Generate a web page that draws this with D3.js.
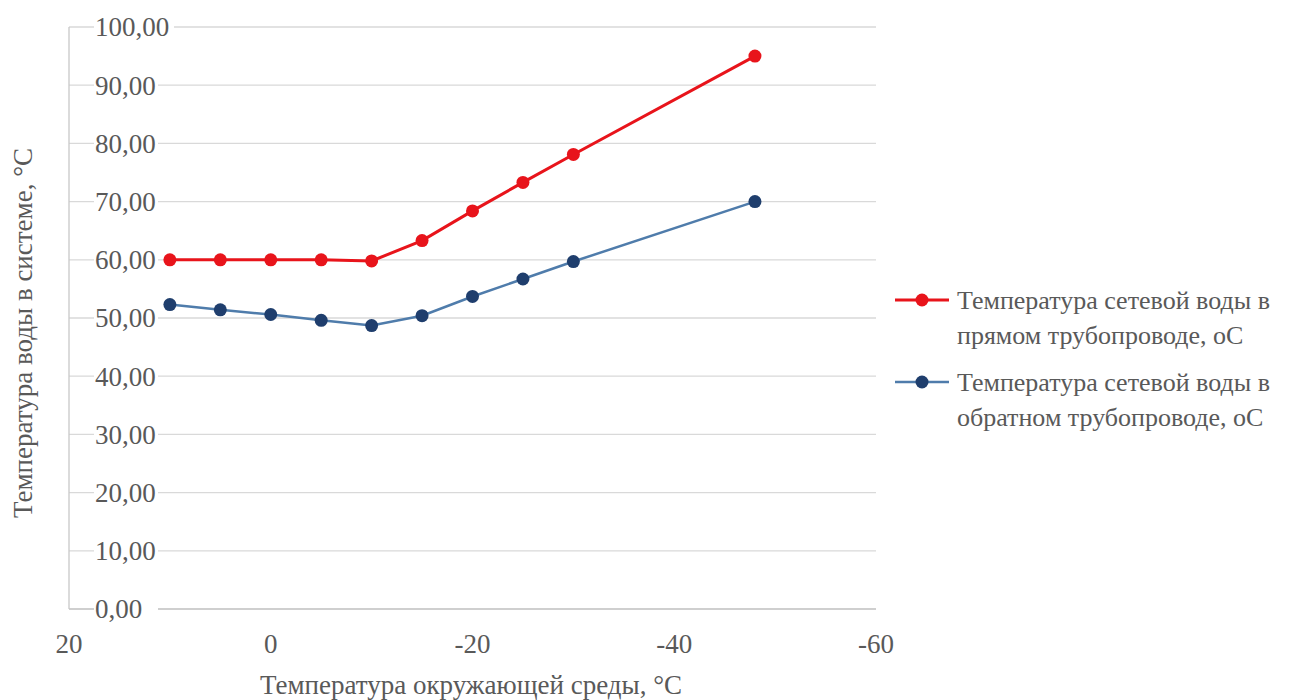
<!DOCTYPE html>
<html>
<head>
<meta charset="utf-8">
<script src="https://cdn.jsdelivr.net/npm/d3@7/dist/d3.min.js"></script>
</head>
<body style="margin:0; background:#fff">
<div id="chart"></div>
<script>
    // температура окружающей среды, °C
    var tOut = [10, 5, 0, -5, -10, -15, -20, -25, -30, -48];
    // прямой трубопровод
    var tSupply = [60, 60, 60, 60, 59.8, 63.3, 68.4, 73.3, 78.1, 95];
    // обратный трубопровод
    var tReturn = [52.3, 51.4, 50.6, 49.6, 48.7, 50.4, 53.7, 56.7, 59.7, 70];
    var xTicks = [20, 0, -20, -40, -60];
    var yTicks = [0, 10, 20, 30, 40, 50, 60, 70, 80, 90, 100];
    var seriesNames = [
        ["Температура сетевой воды в", "прямом трубопроводе, оС"],
        ["Температура сетевой воды в", "обратном трубопроводе, оС"]
    ];

    var W = 1313, H = 700;
    var svg = d3.select("#chart").append("svg")
        .attr("width", W).attr("height", H);

    var x = d3.scaleLinear().domain([20, -60]).range([69, 876]);
    var y = d3.scaleLinear().domain([0, 100]).range([609, 27]);

    function label(sel, size) {
        return sel.attr("font-family", "Times New Roman")
            .style("font-family", "Times New Roman")
            .attr("font-size", size).attr("fill", "#595959");
    }

    // горизонтальная сетка
    svg.append("g")
        .selectAll("line").data(yTicks).enter().append("line")
        .attr("x1", x(20)).attr("x2", x(-60))
        .attr("y1", function (d) { return y(d); })
        .attr("y2", function (d) { return y(d); })
        .attr("stroke", function (d) { return d === 0 ? "#bfbfbf" : "#d9d9d9"; })
        .attr("stroke-width", 1.3);

    // вертикальная ось
    svg.append("line")
        .attr("x1", x(20)).attr("x2", x(20))
        .attr("y1", y(100)).attr("y2", y(0))
        .attr("stroke", "#c8c8c8").attr("stroke-width", 1.3);

    // подписи оси Y (с белой подложкой)
    var yl = svg.append("g").selectAll("g").data(yTicks).enter().append("g")
        .attr("transform", function (d) { return "translate(95," + y(d) + ")"; });
    yl.append("rect")
        .attr("x", -1).attr("y", -6).attr("width", function (d) { return d === 100 ? 80 : 64; })
        .attr("height", 12).attr("fill", "#fff");
    label(yl.append("text"), 27)
        .attr("dy", "0.35em")
        .text(function (d) { return d3.format(".2f")(d).replace(".", ","); });

    // подписи оси X
    label(svg.append("g").selectAll("text").data(xTicks).enter().append("text"), 27)
        .attr("x", function (d) { return x(d); })
        .attr("y", 653)
        .attr("text-anchor", "middle")
        .text(function (d) { return d; });

    // линии серий
    var line = d3.line()
        .x(function (d) { return x(d[0]); })
        .y(function (d) { return y(d[1]); });
    var supply = tOut.map(function (t, i) { return [t, tSupply[i]]; });
    var ret = tOut.map(function (t, i) { return [t, tReturn[i]]; });

    svg.append("path").datum(ret).attr("d", line)
        .attr("fill", "none").attr("stroke", "#4f7cab").attr("stroke-width", 2.5);
    svg.append("path").datum(supply).attr("d", line)
        .attr("fill", "none").attr("stroke", "#e8141b").attr("stroke-width", 3);

    svg.append("g").selectAll("circle").data(ret).enter().append("circle")
        .attr("cx", function (d) { return x(d[0]); })
        .attr("cy", function (d) { return y(d[1]); })
        .attr("r", 6.5).attr("fill", "#1f3e6d");
    svg.append("g").selectAll("circle").data(supply).enter().append("circle")
        .attr("cx", function (d) { return x(d[0]); })
        .attr("cy", function (d) { return y(d[1]); })
        .attr("r", 6.5).attr("fill", "#e8141b");

    // заголовки осей
    label(svg.append("text"), 27)
        .attr("x", 471).attr("y", 694)
        .attr("text-anchor", "middle")
        .text("Температура окружающей среды, °C");
    label(svg.append("text"), 27)
        .attr("transform", "translate(32,333) rotate(-90)")
        .attr("text-anchor", "middle")
        .text("Температура воды в системе, °C");

    // легенда
    var legColors = [["#e8141b", "#e8141b"], ["#4f7cab", "#1f3e6d"]];
    var leg = svg.append("g").selectAll("g").data(seriesNames).enter().append("g")
        .attr("transform", function (d, i) { return "translate(895," + (300 + i * 82) + ")"; });
    leg.append("line")
        .attr("x1", 0).attr("x2", 54).attr("y1", 0).attr("y2", 0)
        .attr("stroke", function (d, i) { return legColors[i][0]; })
        .attr("stroke-width", function (d, i) { return i ? 2.5 : 3; });
    leg.append("circle")
        .attr("cx", 27).attr("cy", 0).attr("r", 6.5)
        .attr("fill", function (d, i) { return legColors[i][1]; });
    label(leg.append("text"), 26)
        .attr("x", 62).attr("y", 9)
        .selectAll("tspan").data(function (d) { return d; }).enter().append("tspan")
        .attr("x", 62)
        .attr("dy", function (d, j) { return j ? 35 : 0; })
        .text(function (d) { return d; });
</script>
</body>
</html>
